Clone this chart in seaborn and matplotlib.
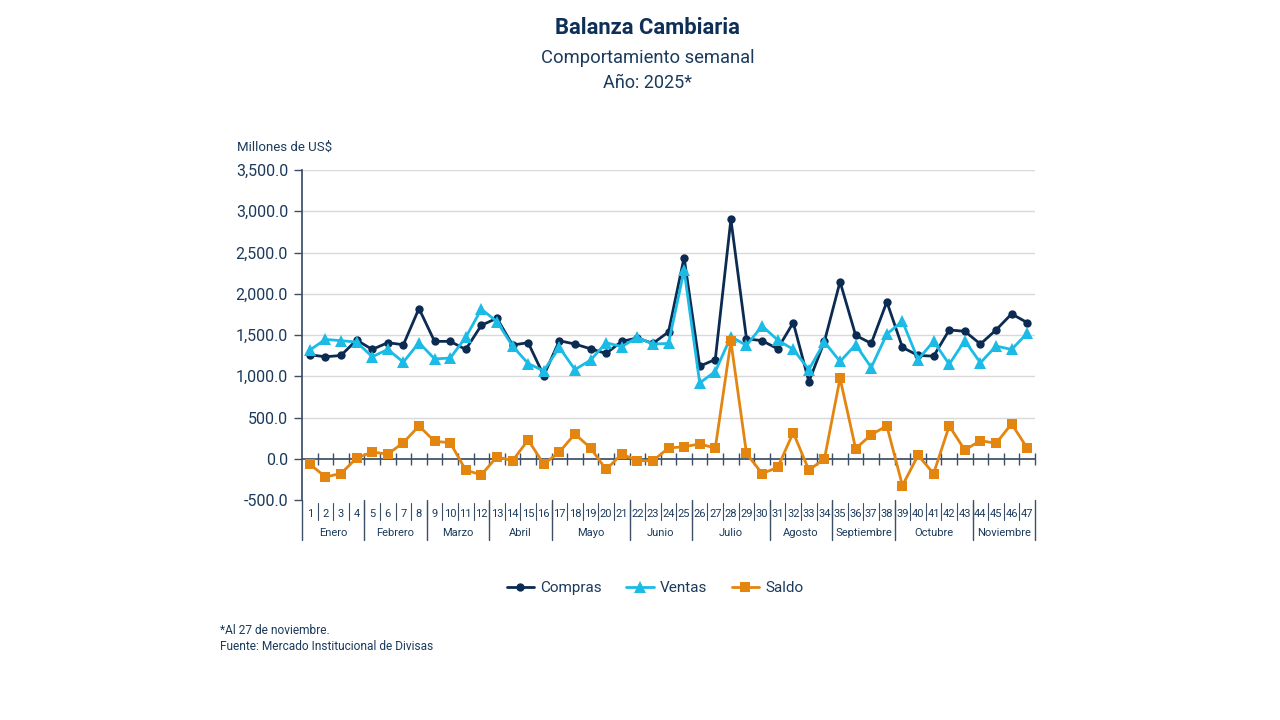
import matplotlib
matplotlib.use("Agg")
import matplotlib.pyplot as plt
import matplotlib.transforms as mtransforms
import numpy as np
import pandas as pd
import seaborn as sns

# Semanas 2025 (millones de US$)
semanas = list(range(1, 48))
compras = [1260, 1236, 1252, 1439, 1325, 1407, 1382, 1821, 1423, 1423, 1325, 1618,
           1703, 1378, 1407, 1008, 1431, 1390, 1333, 1276, 1423, 1463, 1398, 1537,
           2439, 1122, 1203, 2902, 1455, 1431, 1333, 1650, 935, 1423, 2146, 1496,
           1398, 1902, 1350, 1252, 1244, 1561, 1545, 1390, 1561, 1756, 1650]
ventas = [1317, 1447, 1431, 1415, 1236, 1325, 1171, 1407, 1211, 1220, 1472, 1813,
          1663, 1366, 1154, 1065, 1350, 1081, 1195, 1407, 1358, 1472, 1390, 1398,
          2285, 919, 1057, 1480, 1374, 1610, 1439, 1325, 1081, 1415, 1179, 1382,
          1106, 1512, 1667, 1203, 1423, 1146, 1431, 1163, 1366, 1325, 1520]
saldo = [-65, -220, -179, 8, 81, 57, 195, 398, 211, 195, -138, -195,
         24, -24, 228, -65, 81, 301, 130, -130, 57, -24, -24, 130,
         146, 179, 130, 1423, 65, -179, -106, 317, -138, 0, 976, 122,
         293, 398, -325, 41, -179, 398, 106, 220, 187, 423, 130]
meses = ["Enero", "Febrero", "Marzo", "Abril", "Mayo", "Junio", "Julio",
         "Agosto", "Septiembre", "Octubre", "Noviembre"]
semanas_por_mes = [4, 4, 4, 4, 5, 4, 5, 4, 4, 5, 4]

series = {"Compras": compras, "Ventas": ventas, "Saldo": saldo}
colores = {"Compras": "#0B2B52", "Ventas": "#1BBBE6", "Saldo": "#E3850F"}
marcadores = {"Compras": ("o", 6), "Ventas": ("^", 8.5), "Saldo": ("s", 7.5)}

texto = "#1B3A5C"

sns.set_theme(style="white")
plt.rcParams["font.family"] = ["Roboto", "DejaVu Sans"]

fig = plt.figure(figsize=(12.8, 7.2), dpi=100)
ax = fig.add_axes([302 / 1280, 1 - 500 / 720, (1035 - 302) / 1280, 330 / 720])

pos = np.arange(len(semanas))
for nombre, valores in series.items():
    df = pd.DataFrame({"pos": pos, "valor": valores})
    m, ms = marcadores[nombre]
    sns.lineplot(data=df, x="pos", y="valor", ax=ax, color=colores[nombre],
                 linewidth=2, marker=m, markersize=ms, markeredgewidth=0,
                 label=nombre, legend=False, zorder=3)

ax.set_xlim(-0.5, len(semanas) - 0.5)
ax.set_ylim(-500, 3500)
ax.set_yticks(np.arange(-500, 3501, 500))
ax.set_yticklabels([f"{v:,.1f}" for v in np.arange(-500, 3501, 500)],
                   fontsize=11.5, color=texto)
ax.tick_params(axis="y", direction="out", length=6, width=1, color="#3C4F66",
               pad=4, left=True)
for v in np.arange(500, 3501, 500):
    ax.axhline(v, color="#D9D9D9", linewidth=1, zorder=0)

ax.set_xlabel("")
ax.set_ylabel("")
ax.grid(False)
for s in ["top", "right"]:
    ax.spines[s].set_visible(False)
ax.spines["left"].set_color("#3C4F66")
ax.spines["bottom"].set_position(("data", 0))
ax.spines["bottom"].set_color("#3C4F66")
ax.set_xticks(np.arange(0.5, len(semanas) - 0.4, 1))
ax.set_xticklabels([])
ax.tick_params(axis="x", direction="inout", length=8, width=1, color="#3C4F66",
               bottom=True)

# category table below the plot
tr = mtransforms.blended_transform_factory(ax.transData, ax.transAxes)
for i, s in enumerate(semanas):
    ax.text(i, -0.043, str(s), transform=tr, ha="center", va="center",
            fontsize=8, color=texto)
for b in np.arange(0.5, len(semanas) - 0.5, 1):
    ax.plot([b, b], [-0.01, -0.06], transform=tr, color="#3C4F66",
            linewidth=0.8, clip_on=False)
inicio = 0
bordes = [-0.5]
for mes, n in zip(meses, semanas_por_mes):
    centro = inicio + (n - 1) / 2
    ax.text(centro, -0.10, mes, transform=tr, ha="center", va="center",
            fontsize=8, color=texto)
    inicio += n
    bordes.append(inicio - 0.5)
for b in bordes:
    ax.plot([b, b], [0, -0.122], transform=tr, color="#3C4F66",
            linewidth=1, clip_on=False)

# titles
fig.text(0.506, 1 - 28 / 720, "Balanza Cambiaria", ha="center", va="center",
         fontsize=15.8, fontweight="bold", color="#0E2F57")
fig.text(0.506, 1 - 58 / 720, "Comportamiento semanal", ha="center",
         va="center", fontsize=13.2, color=texto)
fig.text(0.506, 1 - 83 / 720, "Año: 2025*", ha="center", va="center",
         fontsize=13, color=texto)
fig.text(237 / 1280, 1 - 147 / 720, "Millones de US$", ha="left", va="center",
         fontsize=9.5, color=texto)

handles, labels = ax.get_legend_handles_labels()
fig.legend(handles, labels, loc="center", bbox_to_anchor=(655 / 1280, 1 - 588 / 720),
           ncol=3, frameon=False, fontsize=11, labelcolor=texto,
           handlelength=1.8, columnspacing=1.6, handletextpad=0.4)

fig.text(220 / 1280, 1 - 631 / 720, "*Al 27 de noviembre.", ha="left",
         va="center", fontsize=8.6, color=texto)
fig.text(220 / 1280, 1 - 647 / 720, "Fuente: Mercado Institucional de Divisas",
         ha="left", va="center", fontsize=8.6, color=texto)

fig.savefig("out.png", dpi=100)
